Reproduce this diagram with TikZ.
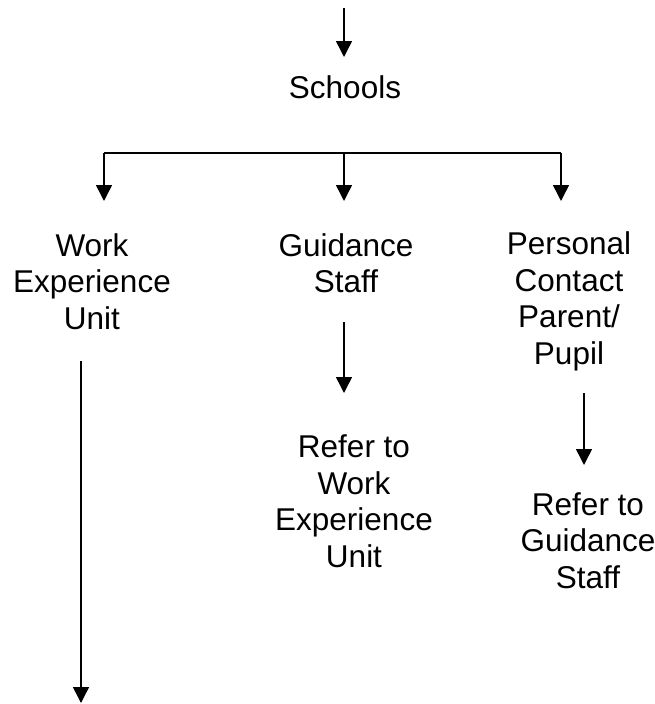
\documentclass[tikz,border=0pt]{standalone}
\usepackage{fontspec}
\setmainfont{Liberation Sans}
\usetikzlibrary{arrows.meta}
\tikzset{
  lbl/.style={align=center, anchor=base, inner sep=0pt, font=\fontsize{31.5}{36.5}\selectfont},
  conn/.style={line width=1.5pt, -{Triangle[width=16pt,length=16pt]}},
  plain/.style={line width=1.5pt}
}
\begin{document}
\begin{tikzpicture}[x=1pt,y=-1pt]
\useasboundingbox (0,0) rectangle (655,704);
% text nodes (anchor = baseline of last line)
\node[lbl] (schools) at (345,98) {Schools};
\node[lbl] (weu) at (92,329) {Work\\Experience\\Unit};
\node[lbl] (gs) at (346,292.5) {Guidance\\Staff};
\node[lbl] (pc) at (569,364) {Personal\\Contact\\Parent/\\Pupil};
\node[lbl] (rweu) at (354,567) {Refer to\\Work\\Experience\\Unit};
\node[lbl] (rgs) at (588,588) {Refer to\\Guidance\\Staff};
% connector end points
\coordinate (in0) at (344,8);
\coordinate (in1) at (344,57);
\coordinate (bl) at (104,153);
\coordinate (bm) at (344,153);
\coordinate (br) at (561,153);
\coordinate (tl) at (104,201);
\coordinate (tm) at (344,201);
\coordinate (tr) at (561,201);
\coordinate (g0) at (344,322);
\coordinate (g1) at (344,393);
\coordinate (p0) at (584,393);
\coordinate (p1) at (584,465);
\coordinate (w0) at (81,361);
\coordinate (w1) at (81,703);
% connectors
\draw[conn] (in0) -- (in1);
\draw[plain] (bl) -- (br);
\draw[conn] (bl) -- (tl);
\draw[conn] (bm) -- (tm);
\draw[conn] (br) -- (tr);
\draw[conn] (g0) -- (g1);
\draw[conn] (p0) -- (p1);
\draw[conn] (w0) -- (w1);
\end{tikzpicture}
\end{document}
